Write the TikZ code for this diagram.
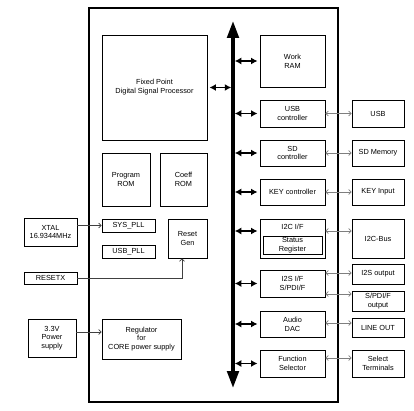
\documentclass[tikz,border=0pt]{standalone}
\usepackage{fontspec}
\setmainfont{Liberation Sans}
\usetikzlibrary{arrows.meta, positioning, calc}
\definecolor{linkgray}{HTML}{7F7F7F}
\definecolor{wiregray}{HTML}{404040}

\begin{document}
\begin{tikzpicture}[
    x=1pt, y=-1pt,
    every node/.style={font=\fontsize{7.35}{8.8}\selectfont},
    blk/.style 2 args={draw, line width=0.9pt, inner sep=0pt, align=center, minimum width=#1pt, minimum height=#2pt},
    frame/.style={draw, line width=1.3pt},
    bus/.style={line width=3.5pt, {Triangle[length=17pt, width=11.5pt]}-{Triangle[length=17pt, width=11.5pt]}},
    buslink/.style={line width=1.3pt, shorten <=1.75pt, shorten >=2pt, {Latex[length=6.5pt, width=7pt]}-{Latex[length=6.5pt, width=7pt]}},
    extlink/.style={linkgray, line width=0.6pt, {Straight Barb[length=2.5pt, width=5pt]}-{Straight Barb[length=2.5pt, width=5pt]}},
    wire/.style={wiregray, line width=0.6pt, -{Straight Barb[length=2.5pt, width=5pt]}}
]
    \useasboundingbox (0,0) rectangle (414,411);
    \draw[frame] (89,8) rectangle (338,402);

    \coordinate (bustop) at (233,21);
    \coordinate (busbot) at (233,388);
    \draw[bus] (bustop) -- (busbot);

    \node[blk={105}{105}] (dsp) at (154.5,87.5) {Fixed Point\\Digital Signal Processor};
    \node[blk={48}{53}] (prom) at (126,179.5) {Program\\ROM};
    \node[blk={47}{53}] (crom) at (183.5,179.5) {Coeff\\ROM};
    \node[blk={53}{13}] (syspll) at (128.5,225.5) {SYS\_PLL};
    \node[blk={53}{13}] (usbpll) at (128.5,251.5) {USB\_PLL};
    \node[blk={39}{39}] (rgen) at (187.5,238.5) {Reset\\Gen};
    \node[blk={79}{40}] (reg) at (141.5,339) {Regulator\\for\\CORE power supply};

    \node[blk={53}{28}] (xtal) at (50.5,232) {XTAL\\16.9344MHz};
    \node[blk={53}{12}] (resetx) at (50.5,278) {RESETX};
    \node[blk={48}{38}] (psu) at (52,338) {3.3V\\Power\\supply};

    \node[blk={65}{52}] (ram) at (292.5,61) {Work\\RAM};
    \node[blk={65}{27}] (usbc) at (292.5,113.5) {USB\\controller};
    \node[blk={65}{26}] (sdc) at (292.5,153) {SD\\controller};
    \node[blk={65}{26}] (keyc) at (292.5,192) {KEY controller};
    \node[blk={65}{39}] (i2c) at (292.5,238.5) {};
    \node[below=5pt of i2c.north, inner sep=0pt] (i2clbl) {I2C I/F};
    \node[blk={59}{18}] (streg) at (292.5,245) {Status\\Register};
    \node[blk={65}{27}] (i2s) at (292.5,283.5) {I2S I/F\\S/PDI/F};
    \node[blk={65}{26}] (dac) at (292.5,324) {Audio\\DAC};
    \node[blk={65}{27}] (fsel) at (292.5,363.5) {Function\\Selector};

    \node[blk={52}{27}] (usb) at (378,113.5) {USB};
    \node[blk={52}{26}] (sdm) at (378,153) {SD Memory};
    \node[blk={52}{26}] (keyin) at (378,192) {KEY Input};
    \node[blk={52}{39}] (i2cbus) at (378,238.5) {I2C-Bus};
    \node[blk={52}{20}] (i2sout) at (378,274) {I2S output};
    \node[blk={52}{20}] (spdif) at (378,301) {S/PDI/F\\output};
    \node[blk={52}{19}] (lineout) at (378,327.5) {LINE OUT};
    \node[blk={52}{27}] (selt) at (378,363.5) {Select\\Terminals};

    \draw[buslink] (dsp.east -| bustop) -- (dsp.east);
    \foreach \blkname/\dy in {ram/0, usbc/0, sdc/0, keyc/0, i2c/7.5, i2s/0, dac/0, fsel/0}
        \draw[buslink] ([yshift=\dy pt]\blkname.west -| bustop) -- ([yshift=\dy pt]\blkname.west);

    \foreach \src/\dst/\dy in {usbc/usb/0, sdc/sdm/0, keyc/keyin/0, i2c/i2cbus/7.5, i2s/i2sout/10.5, i2s/spdif/-10.5, dac/lineout/1, fsel/selt/5.5}
        \draw[extlink] ([yshift=\dy pt]\src.east) -- ([yshift=\dy pt]\src.east -| \dst.west);

    \draw[wire] (syspll.west -| xtal.east) -- (syspll.west);
    \draw[wire] (resetx.east) -| ([xshift=-5.5pt]rgen.south);
    \draw[wire] ([yshift=6pt]psu.east) -- ([yshift=6pt]psu.east -| reg.west);
\end{tikzpicture}
\end{document}
